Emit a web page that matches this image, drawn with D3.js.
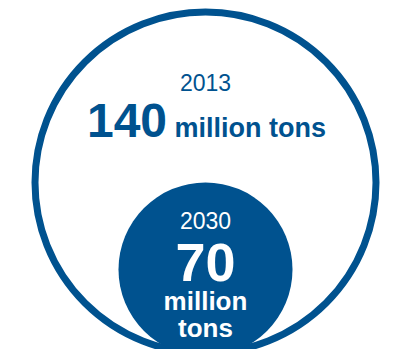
<!DOCTYPE html>
<html>
<head>
<meta charset="utf-8">
<script src="https://cdn.jsdelivr.net/npm/d3@7"></script>
<style>
  html, body { margin: 0; padding: 0; background: #fff; }
  svg text { font-family: "Liberation Sans", Arial, Helvetica, sans-serif; }
</style>
</head>
<body>
<div id="chart"></div>
<script>
// Values
const years = ["2013", "2030"];
const values = [140, 70];
const unitWords = ["million", "tons"];

const width = 396;
const height = 349;
const blue = "#00528f";

const svg = d3
  .select("#chart")
  .append("svg")
  .attr("width", width)
  .attr("height", height);

// radius proportional to value; both circles share the same bottom point
const r = d3.scaleLinear().domain([0, d3.max(values)]).range([0, 174]);
const cx = 205.5;
const bottomY = 182.5 + r(values[0]);
const strokeW = 7;

// big outlined circle (2013)
svg
  .append("circle")
  .attr("cx", cx)
  .attr("cy", bottomY - r(values[0]))
  .attr("r", r(values[0]) - strokeW / 2)
  .attr("fill", "#fff")
  .attr("stroke", blue)
  .attr("stroke-width", strokeW);

// small filled circle (2030)
svg
  .append("circle")
  .attr("cx", cx)
  .attr("cy", bottomY - r(values[1]))
  .attr("r", r(values[1]))
  .attr("fill", blue);

// labels for 2013
svg
  .append("text")
  .attr("x", cx)
  .attr("y", 91)
  .attr("text-anchor", "middle")
  .attr("fill", blue)
  .attr("font-size", 23)
  .text(years[0]);

const big = svg
  .append("text")
  .attr("x", cx + 1)
  .attr("y", 137)
  .attr("text-anchor", "middle")
  .attr("fill", blue)
  .attr("font-weight", "bold");
big.append("tspan").attr("font-size", 48).text(values[0]);
big.append("tspan").attr("font-size", 27).text(" " + unitWords.join(" "));

// labels for 2030
svg
  .append("text")
  .attr("x", cx)
  .attr("y", 229)
  .attr("text-anchor", "middle")
  .attr("fill", "#fff")
  .attr("font-size", 23)
  .text(years[1]);

svg
  .append("text")
  .attr("x", cx)
  .attr("y", 281)
  .attr("text-anchor", "middle")
  .attr("fill", "#fff")
  .attr("font-weight", "bold")
  .attr("font-size", 54)
  .text(values[1]);

svg
  .selectAll("text.unit")
  .data(unitWords)
  .enter()
  .append("text")
  .attr("class", "unit")
  .attr("x", cx)
  .attr("y", (d, i) => 310 + i * 27)
  .attr("text-anchor", "middle")
  .attr("fill", "#fff")
  .attr("font-weight", "bold")
  .attr("font-size", 26)
  .text((d) => d);
</script>
</body>
</html>
